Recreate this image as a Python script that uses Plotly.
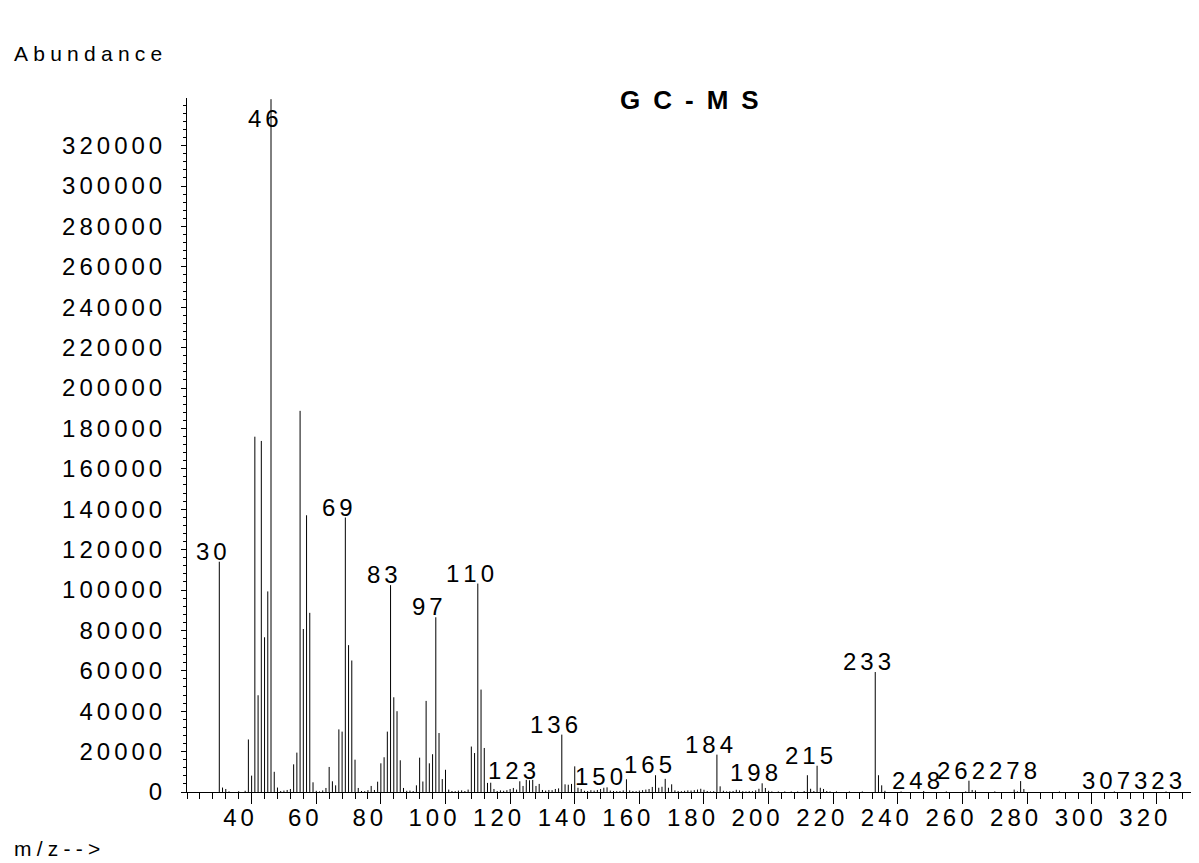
import plotly.graph_objects as go

# ---------------- data ----------------
mz = [30, 31, 32, 33, 36, 38, 39, 40, 41, 42, 43, 44, 45, 46, 47, 48, 49, 50,
      51, 52, 53, 54, 55, 56, 57, 58, 59, 60, 61, 62, 63, 64, 65, 66, 67, 68,
      69, 70, 71, 72, 73, 74, 75, 76, 77, 78, 79, 80, 81, 82, 83, 84, 85, 86,
      87, 88, 89, 90, 91, 92, 93, 94, 95, 96, 97, 98, 99, 100, 101, 102, 103,
      104, 105, 106, 107, 108, 109, 110, 111, 112, 113, 114, 115, 116, 117,
      118, 119, 120, 121, 122, 123, 124, 125, 126, 127, 128, 129, 130, 131,
      132, 133, 134, 135, 136, 137, 138, 139, 140, 141, 142, 143, 144, 145,
      146, 147, 148, 149, 150, 151, 152, 153, 154, 155, 156, 157, 158, 159,
      160, 161, 162, 163, 164, 165, 166, 167, 168, 169, 170, 171, 172, 173,
      174, 175, 176, 177, 178, 179, 180, 181, 182, 183, 184, 185, 186, 187,
      188, 189, 190, 191, 192, 193, 194, 195, 196, 197, 198, 199, 200, 201,
      203, 205, 207, 209, 211, 212, 213, 214, 215, 216, 217, 218, 219, 221,
      225, 229, 233, 234, 235, 236, 241, 248, 255, 261, 262, 263, 264, 270,
      276, 277, 278, 279, 290, 307, 323]
abundance = [114000, 2200, 1500, 300, 400, 600, 26000, 8100, 175900, 47900,
             173800, 76600, 99300, 343000, 10000, 2200, 500, 700, 1000, 1500,
             13700, 19500, 188700, 80700, 137000, 88700, 4800, 600, 300, 800,
             2000, 12400, 5300, 3300, 31000, 29900, 135900, 72700, 65100, 16000,
             2000, 500, 400, 900, 3000, 1000, 5100, 14200, 17200, 29900, 102400,
             46900, 40000, 15700, 2000, 600, 700, 500, 3300, 17000, 5200, 45100,
             14200, 18700, 86500, 29200, 6400, 11000, 1200, 500, 400, 700, 800,
             500, 1200, 22500, 19300, 103200, 50700, 21800, 4500, 4600, 1500,
             500, 800, 600, 900, 1500, 2000, 1200, 5300, 3000, 6000, 5800, 6000,
             3000, 4000, 1000, 700, 1000, 900, 1500, 1800, 28400, 3800, 3600,
             4000, 12700, 2100, 1500, 600, 500, 900, 700, 1000, 1500, 2100, 2300,
             700, 500, 400, 500, 800, 6300, 800, 500, 400, 700, 900, 1200, 1500,
             2500, 8300, 2100, 2600, 6500, 2100, 3800, 800, 500, 400, 600, 800,
             700, 900, 1200, 1600, 1100, 500, 300, 400, 18500, 2800, 600, 300,
             400, 500, 1100, 800, 400, 300, 500, 400, 800, 1600, 4300, 2000, 600,
             300, 300, 300, 300, 300, 500, 8300, 1600, 500, 13000, 2100, 1500,
             500, 300, 300, 300, 300, 59400, 8300, 3300, 600, 300, 500, 300, 300,
             5600, 1000, 800, 300, 1200, 300, 5400, 1500, 300, 300, 300]
labeled_mz = [30, 46, 69, 83, 97, 110, 123, 136, 150, 165, 184, 198, 215,
              233, 248, 262, 278, 307, 323]
x_ticks = [40, 60, 80, 100, 120, 140, 160, 180, 200, 220, 240, 260, 280, 300, 320]
y_ticks = [0, 20000, 40000, 60000, 80000, 100000, 120000, 140000, 160000,
           180000, 200000, 220000, 240000, 260000, 280000, 300000, 320000]
title_text = "GC-MS"
y_title = "Abundance"
x_title = "m/z-->"

FONT = "Liberation Sans, Arial, Helvetica, sans-serif"
SP = "\u2006"            # narrow space: mimics the wide letter spacing
SP_WORD = "\u2005"
SP_TITLE = "\u2002"
NUM_SIZE = 24


def spaced(s, sep=SP):
    return sep.join(str(s))


# build stick segments from the data
xs, ys = [], []
for m, v in zip(mz, abundance):
    xs += [m, m, None]
    ys += [0, v, None]

y_max = max(abundance) * 1.0017

fig = go.Figure()
fig.add_trace(go.Scatter(x=xs, y=ys, mode="lines",
                         line=dict(color="black", width=1),
                         hoverinfo="skip", showlegend=False))

lookup = dict(zip(mz, abundance))
annotations = []
for m in labeled_mz:
    v = min(lookup[m], y_max * 0.956)
    annotations.append(dict(x=m, y=v, xref="x", yref="y", text=spaced(m),
                            showarrow=False, xanchor="center", yanchor="bottom",
                            xshift=-8, yshift=-5,
                            font=dict(family=FONT, size=NUM_SIZE, color="black")))

annotations.append(dict(x=0.497, y=0.997, xref="paper", yref="paper",
                        text="<b>" + spaced(title_text, SP_TITLE) + "</b>",
                        showarrow=False, xanchor="center", yanchor="middle",
                        font=dict(family=FONT, size=26, color="black")))
annotations.append(dict(x=-0.1729, y=1.0648, xref="paper", yref="paper",
                        text=spaced(y_title, SP_WORD), showarrow=False,
                        xanchor="left", yanchor="middle",
                        font=dict(family=FONT, size=21, color="black")))
annotations.append(dict(x=-0.1729, y=-0.0807, xref="paper", yref="paper",
                        text=spaced(x_title, SP_WORD), showarrow=False,
                        xanchor="left", yanchor="middle",
                        font=dict(family=FONT, size=21, color="black")))

# the page body adds an 8 px margin, so the figure is 8 px smaller
fig.update_layout(
    width=1191, height=855,
    margin=dict(l=179, r=0, t=90, b=71),
    paper_bgcolor="white", plot_bgcolor="white",
    font=dict(family=FONT, size=NUM_SIZE, color="black"),
    annotations=annotations,
    xaxis=dict(range=[20, 333.2], tickmode="array", tickvals=x_ticks,
               ticktext=[spaced(t) for t in x_ticks],
               ticks="outside", ticklen=11, tickwidth=1, tickcolor="black",
               minor=dict(ticks="outside", ticklen=6, tickwidth=1,
                          tickcolor="black", tickmode="linear", tick0=0, dtick=4),
               showline=True, linecolor="black", linewidth=1,
               showgrid=False, zeroline=False, ticklabelshift=-13,
               ticklabelstandoff=-7,
               tickfont=dict(family=FONT, size=NUM_SIZE, color="black")),
    yaxis=dict(range=[0, y_max], tickmode="array", tickvals=y_ticks,
               ticktext=[spaced(t) for t in y_ticks],
               ticks="outside", ticklen=5, tickwidth=1, tickcolor="black",
               minor=dict(ticks="outside", ticklen=3, tickwidth=1,
                          tickcolor="black", tickmode="linear", tick0=0, dtick=4000),
               showline=True, linecolor="black", linewidth=1,
               showgrid=False, zeroline=False, ticklabelstandoff=14,
               tickfont=dict(family=FONT, size=NUM_SIZE, color="black")),
)

fig.write_html("out.html")
